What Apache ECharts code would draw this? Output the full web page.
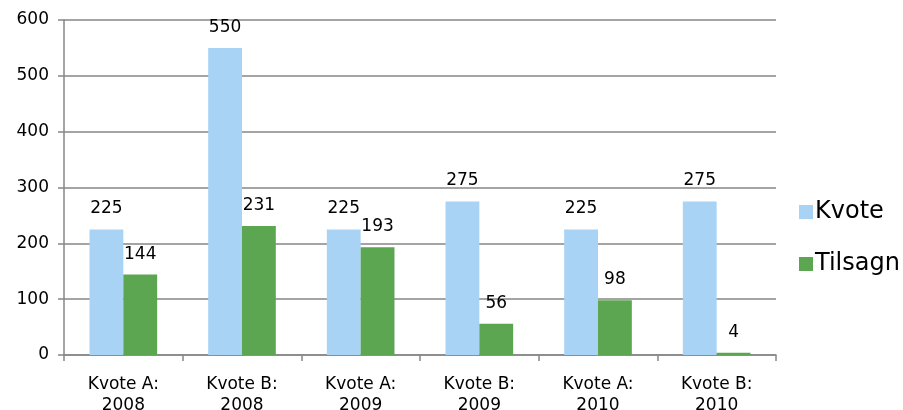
<!DOCTYPE html>
<html><head><meta charset="utf-8">
<script src="https://cdn.jsdelivr.net/npm/echarts@6/dist/echarts.min.js"></script>
<style>html,body{margin:0;padding:0;background:#fff}#c{width:903px;height:410px}</style>
</head><body><div id="c"></div>
<script>
const categories = ["Kvote A:\n2008","Kvote B:\n2008","Kvote A:\n2009","Kvote B:\n2009","Kvote A:\n2010","Kvote B:\n2010"];
const kvote = [225, 550, 225, 275, 225, 275];
const tilsagn = [144, 231, 193, 56, 98, 4];
const yTicks = [0, 100, 200, 300, 400, 500, 600];

const font = "DejaVu Sans, Verdana, sans-serif";
const chart = echarts.init(document.getElementById('c'), null, {renderer:'canvas'});
const lbl = {show:true, position:'top', distance:12, color:'#000', fontSize:17, fontFamily:font};
chart.setOption({
  animation:false,
  grid:{left:64, right:127, top:20, bottom:55, containLabel:false, outerBoundsMode:'none'},
  legend:{
    orient:'vertical', left:794, top:195, itemWidth:14, itemHeight:14, itemGap:28,
    icon:'rect',
    textStyle:{fontSize:24, color:'#000', fontFamily:font, padding:[0,0,0,-3]},
    data:['Kvote','Tilsagn']
  },
  xAxis:{
    type:'category', data:categories,
    axisLine:{lineStyle:{color:'#868686', width:1.5}},
    axisTick:{show:true, length:6, lineStyle:{color:'#868686', width:1.5}},
    axisLabel:{color:'#000', fontSize:17, fontFamily:font, margin:19, lineHeight:21, interval:0}
  },
  yAxis:{
    type:'value', min:yTicks[0], max:yTicks[yTicks.length-1], interval:100,
    axisLine:{show:true, lineStyle:{color:'#868686', width:1.5}},
    axisTick:{show:true, length:6, lineStyle:{color:'#868686', width:1.5}},
    splitLine:{lineStyle:{color:'#868686', width:1.5}},
    axisLabel:{color:'#000', fontSize:17, fontFamily:font, margin:15}
  },
  series:[
    {name:'Kvote', type:'bar', data:kvote, itemStyle:{color:'#a8d3f4'}, barGap:'0%', barCategoryGap:'43%', label:lbl},
    {name:'Tilsagn', type:'bar', data:tilsagn, itemStyle:{color:'#5da651'}, barGap:'0%', barCategoryGap:'43%', label:lbl}
  ]
});
</script></body></html>
